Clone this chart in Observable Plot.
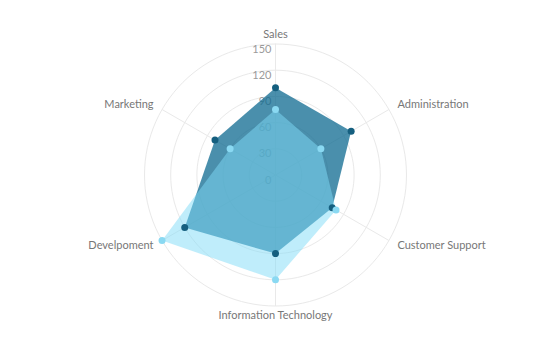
<!DOCTYPE html>
<html>
<head>
<meta charset="utf-8">
<script src="https://cdn.jsdelivr.net/npm/d3@7"></script>
<script src="https://cdn.jsdelivr.net/npm/@observablehq/plot@0.6"></script>
<style>
  html, body { margin: 0; padding: 0; background: #fff; }
  #chart { width: 550px; height: 350px; }
</style>
</head>
<body>
<div id="chart"></div>
<script>
const categories = ["Sales", "Administration", "Customer Support", "Information Technology", "Develpoment", "Marketing"];
const seriesDark = [100, 100, 75, 90, 120, 80];
const seriesLight = [75, 60, 80, 120, 150, 60];
const ticks = [0, 30, 60, 90, 120, 150];
const maxValue = 150;

const n = categories.length;
const ang = i => (i / n) * 2 * Math.PI;
const px = (v, i) => v * Math.sin(ang(i));
const py = (v, i) => v * Math.cos(ang(i));

const toPts = (vals, s) => vals.map((v, i) => ({series: s, cat: categories[i], x: px(v, i), y: py(v, i)}));
const dark = toPts(seriesDark, "dark");
const light = toPts(seriesLight, "light");

// grid rings (sampled circles)
const rings = [];
ticks.filter(t => t > 0).forEach(t => {
  for (let k = 0; k <= 120; k++) {
    const a = k / 120 * 2 * Math.PI;
    rings.push({ring: t, x: t * Math.sin(a), y: t * Math.cos(a)});
  }
});
const spokes = categories.map((c, i) => ({x2: px(maxValue, i), y2: py(maxValue, i)}));
const labelR = maxValue * 1.075;
const labels = categories.map((c, i) => {
  const s = Math.sin(ang(i));
  return {text: c, x: px(labelR, i), y: py(labelR, i), anchor: Math.abs(s) < 1e-6 ? "middle" : (s > 0 ? "start" : "end")};
});
const tickData = ticks.map(t => ({t, x: 0, y: t}));

const labelMark = a => Plot.text(labels.filter(d => d.anchor === a), {x: "x", y: "y", text: "text", textAnchor: a, fill: "#777", fontSize: 11});

const chart = Plot.plot({
  width: 550,
  height: 350,
  marginLeft: 144,
  marginRight: 144,
  marginTop: 43.5,
  marginBottom: 44.5,
  x: {domain: [-maxValue, maxValue], axis: null},
  y: {domain: [-maxValue, maxValue], axis: null},
  style: {fontFamily: "Lato, 'Open Sans', sans-serif", background: "#fff"},
  marks: [
    Plot.line(rings, {x: "x", y: "y", z: "ring", stroke: "#e9e9e9", strokeWidth: 1}),
    Plot.link(spokes, {x1: 0, y1: 0, x2: "x2", y2: "y2", stroke: "#e9e9e9", strokeWidth: 1}),
    Plot.text(tickData, {x: "x", y: "y", text: d => String(d.t), textAnchor: "end", dx: -4, dy: 5, fill: "#9a9a9a", fontSize: 11}),
    Plot.line(dark, {x: "x", y: "y", curve: "linear-closed", fill: "#0e6a90", fillOpacity: 0.75, stroke: "none"}),
    Plot.line(light, {x: "x", y: "y", curve: "linear-closed", fill: "#80dcf7", fillOpacity: 0.5, stroke: "none"}),
    Plot.dot(dark, {x: "x", y: "y", r: 3.5, fill: "#155f7f", stroke: "none"}),
    Plot.dot(light, {x: "x", y: "y", r: 3.5, fill: "#8ad9f2", stroke: "none"}),
    labelMark("middle"),
    labelMark("start"),
    labelMark("end")
  ]
});
document.getElementById("chart").appendChild(chart);
</script>
</body>
</html>
